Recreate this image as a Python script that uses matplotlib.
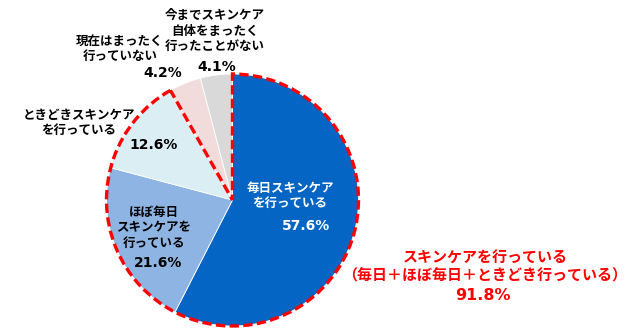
import matplotlib.pyplot as plt
from matplotlib.patches import Wedge

plt.rcParams['font.family'] = ['Noto Sans CJK JP', 'DejaVu Sans']

labels = ['毎日スキンケア\nを行っている', 'ほぼ毎日\nスキンケアを\n行っている',
          'ときどきスキンケア\nを行っている', '現在はまったく\n行っていない',
          '今までスキンケア\n自体をまったく\n行ったことがない']
values = [57.6, 21.6, 12.6, 4.2, 4.1]
colors = ['#0565C4', '#8DB4E2', '#DAEEF3', '#F2DCDB', '#D9D9D9']
doing_total = 91.8

W, H = 634, 336
fig = plt.figure(figsize=(W / 100, H / 100), dpi=100)
ax = fig.add_axes([0, 0, 1, 1])

cx, cy, r = 232.5, H - 200, 126
ax.pie(values, colors=colors, startangle=90, counterclock=False,
       center=(cx, cy), radius=r,
       wedgeprops=dict(linewidth=0.6, edgecolor='white'))
ax.set_xlim(0, W)
ax.set_ylim(0, H)
ax.set_aspect('equal')
ax.axis('off')

# dashed outline around the "doing skincare" share
theta1 = 90 - doing_total / 100 * 360
ax.add_patch(Wedge((cx, cy), r, theta1, 90, fill=False, edgecolor='#FF0000',
                   linewidth=2.4, linestyle=(0, (2.8, 1.3)), zorder=5))

def txt(x, y, s, color='black', size=9, family=None, ls=1.25):
    ax.text(x, H - y, s, color=color, ha='center', va='center', fontsize=size,
            fontweight='bold', linespacing=ls, zorder=6, family=family)

pct = ['DejaVu Sans']
txt(290, 196, labels[0], color='white')
txt(306, 226, f'{values[0]}%', color='white', size=10, family=pct)
txt(154, 228, labels[1])
txt(158, 263, f'{values[1]}%', size=10, family=pct)
txt(79, 123, labels[2])
txt(154, 145, f'{values[2]}%', size=10, family=pct)
txt(120, 49, labels[3])
txt(163, 73, f'{values[3]}%', size=10, family=pct)
txt(215, 31, labels[4])
txt(217, 67, f'{values[4]}%', size=10, family=pct)

txt(485, 267, 'スキンケアを行っている\n（毎日＋ほぼ毎日＋ときどき行っている）',
    color='#FF0000', size=10.8, ls=1.15)
txt(483, 296, f'{doing_total}%', color='#FF0000', size=11.5, family=pct)

fig.savefig('out.png', dpi=100)
